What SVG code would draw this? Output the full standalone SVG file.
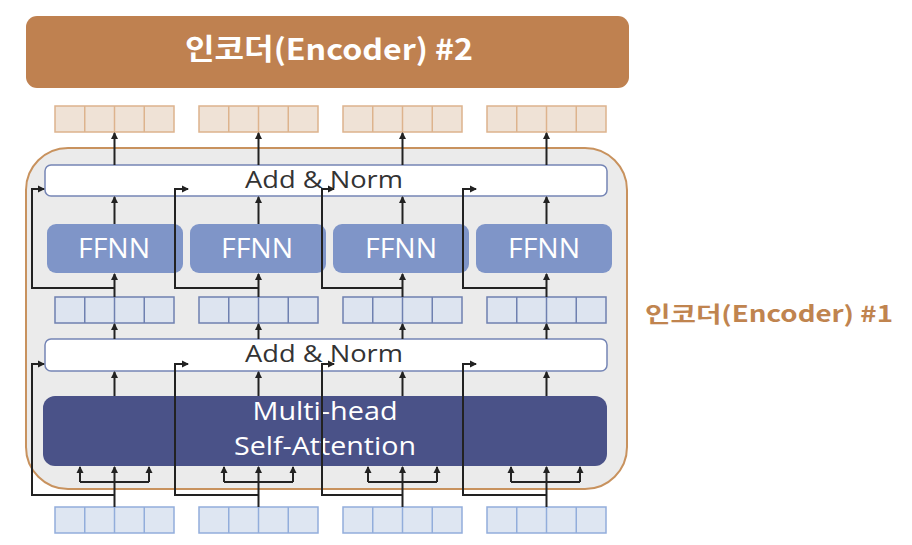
<svg xmlns="http://www.w3.org/2000/svg" width="912" height="545" viewBox="0 0 912 545">
<style>
.ov{fill:#EFE2D6;stroke:#DDB38D;stroke-width:1.5}
.mv{fill:#DDE4F0;stroke:#6F80B0;stroke-width:1.5}
.bv{fill:#DEE6F2;stroke:#92ADDB;stroke-width:1.5}
.an{fill:#fff;stroke:#7585B5;stroke-width:1.5}
.ff{fill:#7F95C8}
.wt{fill:#fff;font-family:"Open Sans","Noto Sans",sans-serif;text-anchor:middle}
.ant{fill:#333;font-family:"Open Sans","Noto Sans",sans-serif;font-size:23px;text-anchor:middle}
.ln{fill:none;stroke:#222;stroke-width:2}
.ar{marker-end:url(#ah)}
</style>
<defs>
<marker id="ah" markerWidth="8" markerHeight="8" refX="6" refY="4" orient="auto" markerUnits="userSpaceOnUse">
<path d="M0,0.5 L7,4 L0,7.5 Z" fill="#222"/>
</marker>
<g id="vec"><rect x="0" y="0" width="119" height="26"/><line x1="29.75" y1="0" x2="29.75" y2="26"/><line x1="59.5" y1="0" x2="59.5" y2="26"/><line x1="89.25" y1="0" x2="89.25" y2="26"/></g>
</defs>
<rect width="912" height="545" fill="#fff"/>

<g id="encoder2">
<rect x="26" y="16" width="603" height="72" rx="11" fill="#BF8150"/>
<text x="329" y="60" font-family="'Noto Sans CJK KR',sans-serif" font-weight="bold" font-size="29" fill="#fff" text-anchor="middle" textLength="288" lengthAdjust="spacingAndGlyphs">인코더(Encoder) #2</text>
</g>

<g id="encoder1">
<rect x="26" y="148" width="601" height="341" rx="42" fill="#EBEBEB" stroke="#C8925E" stroke-width="2"/>
<text x="645" y="322" font-family="'Noto Sans CJK KR',sans-serif" font-weight="bold" font-size="22" fill="#C0844F" textLength="248" lengthAdjust="spacingAndGlyphs">인코더(Encoder) #1</text>
</g>

<g id="out-vectors" class="ov">
<use href="#vec" x="55" y="106"/><use href="#vec" x="199" y="106"/><use href="#vec" x="343" y="106"/><use href="#vec" x="487" y="106"/>
</g>
<g id="mid-vectors" class="mv">
<use href="#vec" x="55" y="297"/><use href="#vec" x="199" y="297"/><use href="#vec" x="343" y="297"/><use href="#vec" x="487" y="297"/>
</g>
<g id="in-vectors" class="bv">
<use href="#vec" x="55" y="507"/><use href="#vec" x="199" y="507"/><use href="#vec" x="343" y="507"/><use href="#vec" x="487" y="507"/>
</g>

<g id="addnorm2">
<rect class="an" x="45" y="165" width="562" height="31" rx="6"/>
<text class="ant" x="324" y="188" textLength="158" lengthAdjust="spacingAndGlyphs">Add &amp; Norm</text>
</g>
<g id="ffnn1"><rect class="ff" x="47" y="224" width="136" height="49" rx="9"/><text class="wt" x="114" y="258" font-size="28" textLength="72" lengthAdjust="spacingAndGlyphs">FFNN</text></g>
<g id="ffnn2"><rect class="ff" x="190" y="224" width="136" height="49" rx="9"/><text class="wt" x="257" y="258" font-size="28" textLength="72" lengthAdjust="spacingAndGlyphs">FFNN</text></g>
<g id="ffnn3"><rect class="ff" x="333" y="224" width="136" height="49" rx="9"/><text class="wt" x="401" y="258" font-size="28" textLength="72" lengthAdjust="spacingAndGlyphs">FFNN</text></g>
<g id="ffnn4"><rect class="ff" x="476" y="224" width="136" height="49" rx="9"/><text class="wt" x="544" y="258" font-size="28" textLength="72" lengthAdjust="spacingAndGlyphs">FFNN</text></g>

<g id="addnorm1">
<rect class="an" x="45" y="339" width="562" height="32" rx="6"/>
<text class="ant" x="324" y="362" textLength="158" lengthAdjust="spacingAndGlyphs">Add &amp; Norm</text>
</g>

<g id="mhsa">
<rect x="43" y="396" width="564" height="70" rx="12" fill="#4A5288"/>
<text class="wt" x="325" y="420" font-size="25" textLength="145" lengthAdjust="spacingAndGlyphs">Multi-head</text>
<text class="wt" x="325" y="455" font-size="25" textLength="182" lengthAdjust="spacingAndGlyphs">Self-Attention</text>
</g>

<g id="connectors">
<line class="ln ar" x1="114.5" y1="165" x2="114.5" y2="133"/>
<line class="ln ar" x1="258.5" y1="165" x2="258.5" y2="133"/>
<line class="ln ar" x1="402.5" y1="165" x2="402.5" y2="133"/>
<line class="ln ar" x1="546.5" y1="165" x2="546.5" y2="133"/>
<line class="ln ar" x1="114.5" y1="224" x2="114.5" y2="197"/>
<line class="ln ar" x1="258.5" y1="224" x2="258.5" y2="197"/>
<line class="ln ar" x1="402.5" y1="224" x2="402.5" y2="197"/>
<line class="ln ar" x1="546.5" y1="224" x2="546.5" y2="197"/>
<line class="ln ar" x1="114.5" y1="297" x2="114.5" y2="274"/>
<line class="ln ar" x1="258.5" y1="297" x2="258.5" y2="274"/>
<line class="ln ar" x1="402.5" y1="297" x2="402.5" y2="274"/>
<line class="ln ar" x1="546.5" y1="297" x2="546.5" y2="274"/>
<path class="ln ar" d="M114.5,288 H32 V189 H44"/>
<path class="ln ar" d="M258.5,288 H175 V189 H188"/>
<path class="ln ar" d="M402.5,288 H322 V189 H334"/>
<path class="ln ar" d="M546.5,288 H463 V189 H476"/>
<line class="ln ar" x1="114.5" y1="339" x2="114.5" y2="324"/>
<line class="ln ar" x1="258.5" y1="339" x2="258.5" y2="324"/>
<line class="ln ar" x1="402.5" y1="339" x2="402.5" y2="324"/>
<line class="ln ar" x1="546.5" y1="339" x2="546.5" y2="324"/>
<line class="ln ar" x1="114.5" y1="396" x2="114.5" y2="372"/>
<line class="ln ar" x1="258.5" y1="396" x2="258.5" y2="372"/>
<line class="ln ar" x1="402.5" y1="396" x2="402.5" y2="372"/>
<line class="ln ar" x1="546.5" y1="396" x2="546.5" y2="372"/>
<line class="ln ar" x1="114.5" y1="507" x2="114.5" y2="467"/>
<line class="ln ar" x1="258.5" y1="507" x2="258.5" y2="467"/>
<line class="ln ar" x1="402.5" y1="507" x2="402.5" y2="467"/>
<line class="ln ar" x1="546.5" y1="507" x2="546.5" y2="467"/>
<path class="ln ar" d="M80,482 V467"/><path class="ln ar" d="M149,482 V467"/><path class="ln" d="M80,482 H149"/>
<path class="ln ar" d="M224,482 V467"/><path class="ln ar" d="M293,482 V467"/><path class="ln" d="M224,482 H293"/>
<path class="ln ar" d="M368,482 V467"/><path class="ln ar" d="M437,482 V467"/><path class="ln" d="M368,482 H437"/>
<path class="ln ar" d="M511,482 V467"/><path class="ln ar" d="M580,482 V467"/><path class="ln" d="M511,482 H580"/>
<path class="ln ar" d="M114.5,495 H32 V364 H44"/>
<path class="ln ar" d="M258.5,495 H175 V364 H188"/>
<path class="ln ar" d="M402.5,495 H322 V364 H334"/>
<path class="ln ar" d="M546.5,495 H463 V364 H476"/>
</g>
</svg>
